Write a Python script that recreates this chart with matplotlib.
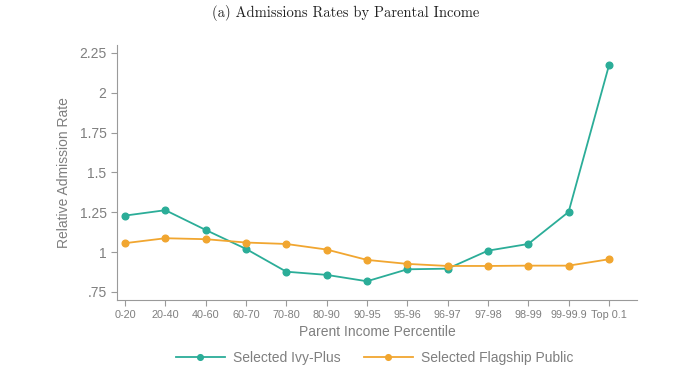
import matplotlib

matplotlib.use("Agg")
import matplotlib.pyplot as plt

# Relative admission rate by parent income bin
categories = ["0-20", "20-40", "40-60", "60-70", "70-80", "80-90", "90-95",
              "95-96", "96-97", "97-98", "98-99", "99-99.9", "Top 0.1"]
ivy_plus = [1.229, 1.263, 1.139, 1.020, 0.877, 0.857, 0.817,
            0.892, 0.896, 1.009, 1.051, 1.252, 2.171]
flagship = [1.056, 1.087, 1.081, 1.060, 1.051, 1.016, 0.951,
            0.926, 0.913, 0.913, 0.915, 0.915, 0.955]
y_ticks = [0.75, 1.0, 1.25, 1.5, 1.75, 2.0, 2.25]
y_tick_labels = [".75", "1", "1.25", "1.5", "1.75", "2", "2.25"]

teal = "#2bad98"
orange = "#f1a630"
grey = "#7f7f7f"
spine = "#9a9a9a"

plt.rcParams["font.family"] = ["Liberation Sans", "DejaVu Sans"]

fig = plt.figure(figsize=(6.8, 3.84), dpi=100)
ax = fig.add_axes([0.172, 0.219, 0.765, 0.664])

x = list(range(len(categories)))
ax.plot(x, ivy_plus, color=teal, lw=1.3, marker="o", ms=4.8,
        label="Selected Ivy-Plus")
ax.plot(x, flagship, color=orange, lw=1.3, marker="o", ms=4.8,
        label="Selected Flagship Public")

ax.set_xlim(-0.2, 12.7)
ax.set_ylim(0.70, 2.30)
ax.set_xticks(x)
ax.set_xticklabels(categories, fontsize=7.8, color=grey)
ax.set_yticks(y_ticks)
ax.set_yticklabels(y_tick_labels, fontsize=10, color=grey)
ax.tick_params(axis="both", color=spine, length=4, width=0.8)
ax.tick_params(axis="x", pad=3)

ax.set_xlabel("Parent Income Percentile", fontsize=10, color=grey, labelpad=4)
ax.set_ylabel("Relative Admission Rate", fontsize=10, color=grey, labelpad=6)

ax.spines[["top", "right"]].set_visible(False)
for s in ("left", "bottom"):
    ax.spines[s].set_color(spine)
    ax.spines[s].set_linewidth(0.8)

leg = fig.legend(loc="center", bbox_to_anchor=(0.551, 0.069), ncol=2,
                 frameon=False, fontsize=10, handlelength=3.5,
                 columnspacing=1.7, handletextpad=0.6, markerscale=0.85)
for t in leg.get_texts():
    t.set_color(grey)

fig.text(0.508, 0.966, "(a) Admissions Rates by Parental Income",
         ha="center", va="center", fontsize=10.5, family="cmr10",
         color="#222222")

fig.savefig("out.png", dpi=100, facecolor="white")
